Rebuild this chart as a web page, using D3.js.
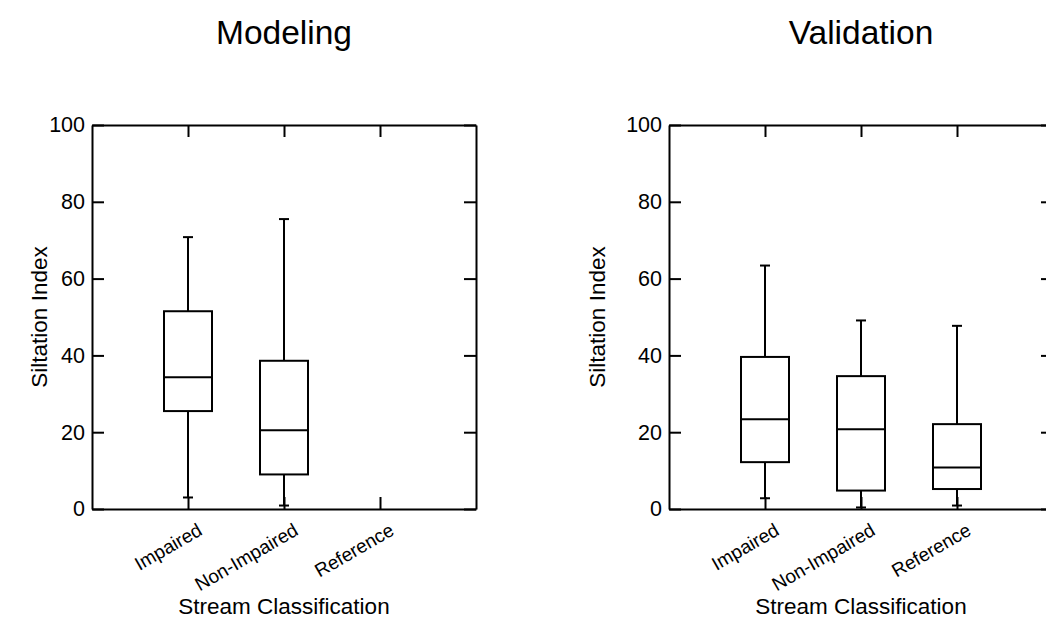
<!DOCTYPE html>
<html>
<head>
<meta charset="utf-8">
<script src="https://cdn.jsdelivr.net/npm/d3@7"></script>
<style>
  body { margin: 0; background: #fff; }
  svg { display: block; font-family: Arial, "Liberation Sans", sans-serif; }
</style>
</head>
<body>
<svg id="chart" width="1046" height="619"></svg>
<script>
// categories and box statistics
var categories = ['Impaired', 'Non-Impaired', 'Reference']
var yTicks = [0, 20, 40, 60, 80, 100]

// Modeling (no Reference box)
var modelingMin    = [3.0, 0.9, null]
var modelingQ1     = [25.5, 9.0, null]
var modelingMedian = [34.3, 20.5, null]
var modelingQ3     = [51.5, 38.6, null]
var modelingMax    = [70.8, 75.5, null]

// Validation
var validationMin    = [2.8, 0.4, 0.9]
var validationQ1     = [12.2, 4.8, 5.2]
var validationMedian = [23.4, 20.8, 10.8]
var validationQ3     = [39.6, 34.6, 22.1]
var validationMax    = [63.4, 49.1, 47.7]

var svg = d3.select('#chart')
var plotTop = 125, plotBottom = 509, size = 384

function panel(left, title, mins, q1s, meds, q3s, maxs, labelX) {
    var x = d3.scalePoint().domain(categories).range([left, left + size]).padding(1)
    var y = d3.scaleLinear().domain([0, 100]).range([plotBottom, plotTop])
    var g = svg.append('g')

    var rows = categories.map(function(c, i){
        return {cat: c, min: mins[i], q1: q1s[i], med: meds[i], q3: q3s[i], max: maxs[i]}
    }).filter(function(d){ return d.med != null })

    // axes, ticks pointing inside
    var ax = g.append('g').attr('transform', 'translate(' + left + ',0)')
        .call(d3.axisLeft(y).tickValues(yTicks).tickSize(-12).tickSizeOuter(0).tickPadding(7))
    ax.selectAll('text').attr('font-size', 21.5).attr('fill', '#000').attr('font-family', 'Arial, "Liberation Sans", sans-serif')
    g.append('g').attr('transform', 'translate(' + (left + size) + ',0)')
        .call(d3.axisRight(y).tickValues(yTicks).tickSize(-12).tickSizeOuter(0).tickFormat(''))
    g.append('g').attr('transform', 'translate(0,' + plotTop + ')')
        .call(d3.axisTop(x).tickSize(-12).tickSizeOuter(0).tickFormat(''))
    var bx = g.append('g').attr('transform', 'translate(0,' + plotBottom + ')')
        .call(d3.axisBottom(x).tickSize(-12).tickSizeOuter(0))
    bx.selectAll('text')
        .attr('x', 0).attr('y', 0).attr('dy', 0)
        .attr('text-anchor', 'end')
        .attr('transform', 'translate(15,25) rotate(-30)')
        .attr('font-size', 19).attr('fill', '#000').attr('font-family', 'Arial, "Liberation Sans", sans-serif')
    g.selectAll('.domain').attr('stroke', '#000').attr('stroke-width', 2)
    g.selectAll('.tick line').attr('stroke', '#000').attr('stroke-width', 2)

    var half = x.step() * 0.25, cap = 5

    // whiskers
    g.selectAll('line.wlo').data(rows).join('line').attr('class', 'wlo')
        .attr('x1', d => x(d.cat)).attr('x2', d => x(d.cat))
        .attr('y1', d => y(d.min)).attr('y2', d => y(d.q1))
    g.selectAll('line.whi').data(rows).join('line').attr('class', 'whi')
        .attr('x1', d => x(d.cat)).attr('x2', d => x(d.cat))
        .attr('y1', d => y(d.q3)).attr('y2', d => y(d.max))
    g.selectAll('line.clo').data(rows).join('line').attr('class', 'clo')
        .attr('x1', d => x(d.cat) - cap).attr('x2', d => x(d.cat) + cap)
        .attr('y1', d => y(d.min)).attr('y2', d => y(d.min))
    g.selectAll('line.chi').data(rows).join('line').attr('class', 'chi')
        .attr('x1', d => x(d.cat) - cap).attr('x2', d => x(d.cat) + cap)
        .attr('y1', d => y(d.max)).attr('y2', d => y(d.max))
    // boxes
    g.selectAll('rect.box').data(rows).join('rect').attr('class', 'box')
        .attr('x', d => x(d.cat) - half).attr('width', half * 2)
        .attr('y', d => y(d.q3)).attr('height', d => y(d.q1) - y(d.q3))
        .attr('fill', 'none')
    g.selectAll('line.med').data(rows).join('line').attr('class', 'med')
        .attr('x1', d => x(d.cat) - half).attr('x2', d => x(d.cat) + half)
        .attr('y1', d => y(d.med)).attr('y2', d => y(d.med))
    g.selectAll('line.wlo, line.whi, line.clo, line.chi, rect.box, line.med')
        .attr('stroke', '#000').attr('stroke-width', 2)

    // titles
    g.append('text').attr('x', left + size / 2).attr('y', 44)
        .attr('text-anchor', 'middle').attr('font-size', 33.5).text(title)
    g.append('text').attr('x', left + size / 2).attr('y', 614)
        .attr('text-anchor', 'middle').attr('font-size', 22.5).text('Stream Classification')
    g.append('text').attr('transform', 'translate(' + labelX + ',' + (plotTop + plotBottom) / 2 + ') rotate(-90)')
        .attr('text-anchor', 'middle').attr('font-size', 22.5).text('Siltation Index')
}

panel(92, 'Modeling', modelingMin, modelingQ1, modelingMedian, modelingQ3, modelingMax, 47)
panel(669, 'Validation', validationMin, validationQ1, validationMedian, validationQ3, validationMax, 605)
</script>
</body>
</html>
